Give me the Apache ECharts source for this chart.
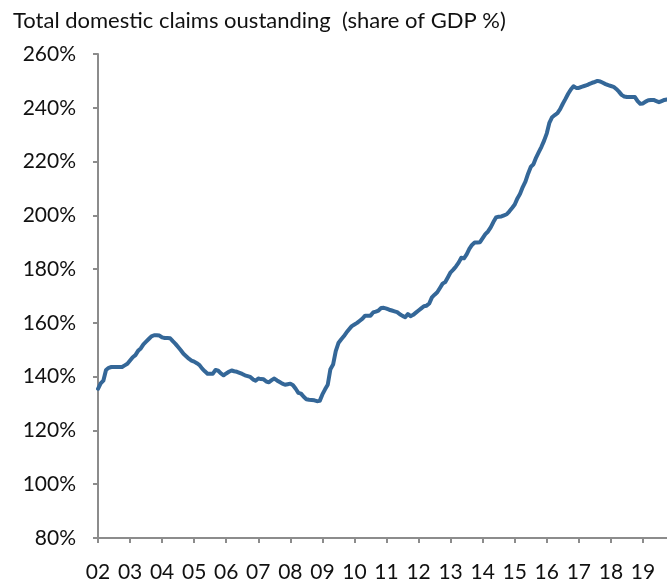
<!DOCTYPE html>
<html>
<head>
<meta charset="utf-8">
<script src="https://cdn.jsdelivr.net/npm/echarts@6/dist/echarts.min.js"></script>
<style>
  html, body { margin: 0; padding: 0; background: #fff; }
  #chart { width: 667px; height: 583px; }
</style>
</head>
<body>
<div id="chart"></div>
<script>
// Total domestic claims outstanding, monthly, share of GDP (%), Jan 2002 - Oct 2019
const startYear = 2002;
const titleText = 'Total domestic claims oustanding  (share of GDP %)';
const yTicks = [80, 100, 120, 140, 160, 180, 200, 220, 240, 260];

const v2002 = [135.5, 137.5, 138.5, 142.5, 143.3, 143.6, 143.6, 143.6, 143.6, 143.6, 144.2, 144.8];
const v2003 = [146.0, 147.2, 148.0, 149.6, 150.5, 152.0, 153.0, 154.0, 155.0, 155.4, 155.4, 155.3];
const v2004 = [154.6, 154.4, 154.4, 154.3, 153.2, 152.2, 151.0, 149.8, 148.5, 147.6, 146.7, 146.0];
const v2005 = [145.6, 145.0, 144.3, 143.0, 142.0, 141.1, 141.1, 141.1, 142.5, 142.2, 141.2, 140.5];
const v2006 = [141.2, 141.8, 142.3, 142.0, 141.8, 141.4, 141.0, 140.5, 140.2, 139.9, 139.0, 138.5];
const v2007 = [139.3, 139.1, 139.0, 138.2, 137.9, 138.7, 139.3, 138.6, 138.0, 137.4, 137.0, 137.2];
const v2008 = [137.4, 136.8, 135.5, 134.0, 133.7, 132.5, 131.6, 131.4, 131.3, 131.2, 130.9, 131.0];
const v2009 = [133.4, 135.3, 137.0, 142.8, 144.5, 149.5, 152.5, 153.8, 155.0, 156.4, 157.6, 158.8];
const v2010 = [159.4, 160.0, 160.8, 161.6, 162.7, 162.7, 162.7, 163.9, 164.2, 164.6, 165.5, 165.6];
const v2011 = [165.3, 164.9, 164.6, 164.3, 164.0, 163.2, 162.6, 162.1, 163.3, 162.5, 163.0, 163.8];
const v2012 = [164.6, 165.4, 166.2, 166.4, 167.2, 169.5, 170.5, 171.4, 173.0, 174.6, 175.2, 177.0];
const v2013 = [178.8, 179.8, 181.0, 182.4, 184.2, 184.0, 185.5, 187.5, 189.0, 189.9, 189.9, 190.0];
const v2014 = [191.5, 193.0, 194.0, 195.5, 197.5, 199.2, 199.5, 199.6, 200.0, 200.4, 201.5, 202.7];
const v2015 = [204.0, 206.3, 208.0, 210.5, 212.5, 215.5, 218.0, 219.0, 221.5, 223.5, 225.5, 227.8];
const v2016 = [230.5, 234.5, 236.5, 237.3, 238.0, 239.5, 241.5, 243.3, 245.2, 246.8, 248.0, 247.4];
const v2017 = [247.4, 247.8, 248.1, 248.4, 248.9, 249.3, 249.6, 250.0, 249.8, 249.3, 248.8, 248.4];
const v2018 = [248.1, 247.8, 247.0, 246.0, 244.8, 244.2, 244.0, 244.0, 244.0, 244.0, 242.5, 241.5];
const v2019 = [241.6, 242.3, 242.8, 242.9, 242.9, 242.5, 242.1, 242.5, 242.9, 243.1];

const values = [].concat(v2002, v2003, v2004, v2005, v2006, v2007, v2008, v2009,
  v2010, v2011, v2012, v2013, v2014, v2015, v2016, v2017, v2018, v2019);

// month categories "YYYY-MM"
const months = values.map(function (_, i) {
  const y = startYear + Math.floor(i / 12);
  const m = (i % 12) + 1;
  return y + '-' + (m < 10 ? '0' + m : m);
});

const axisGrey = '#8c8c8c';
const font = 'Lato, "Open Sans", sans-serif';
const isJan = function (idx) { return idx % 12 === 0; };

const chart = echarts.init(document.getElementById('chart'), null, { renderer: 'canvas' });
chart.setOption({
  animation: false,
  backgroundColor: '#ffffff',
  title: {
    text: titleText,
    left: 8,
    top: 5,
    textStyle: { fontFamily: font, fontSize: 22, fontWeight: 'normal', color: '#111' }
  },
  grid: { left: 98, right: 0, top: 54, bottom: 43, containLabel: false },
  xAxis: {
    type: 'category',
    data: months,
    boundaryGap: false,
    axisLine: { show: true, lineStyle: { color: axisGrey, width: 2 } },
    axisTick: { show: true, interval: isJan, length: 5, lineStyle: { color: axisGrey, width: 2 } },
    axisLabel: {
      interval: isJan,
      margin: 24,
      fontFamily: font,
      fontSize: 21,
      color: '#111',
      formatter: function (v) { return v.slice(2, 4); }
    },
    splitLine: { show: false }
  },
  yAxis: {
    type: 'value',
    min: yTicks[0],
    max: yTicks[yTicks.length - 1],
    interval: yTicks[1] - yTicks[0],
    axisLine: { show: true, lineStyle: { color: axisGrey, width: 2 } },
    axisTick: { show: true, length: 5, lineStyle: { color: axisGrey, width: 2 } },
    axisLabel: {
      margin: 22,
      fontFamily: font,
      fontSize: 21,
      color: '#111',
      formatter: '{value}%'
    },
    splitLine: { show: false }
  },
  series: [{
    type: 'line',
    data: values,
    showSymbol: false,
    smooth: false,
    clip: true,
    lineStyle: { color: '#346798', width: 4, cap: 'round', join: 'round' }
  }]
});
</script>
</body>
</html>
